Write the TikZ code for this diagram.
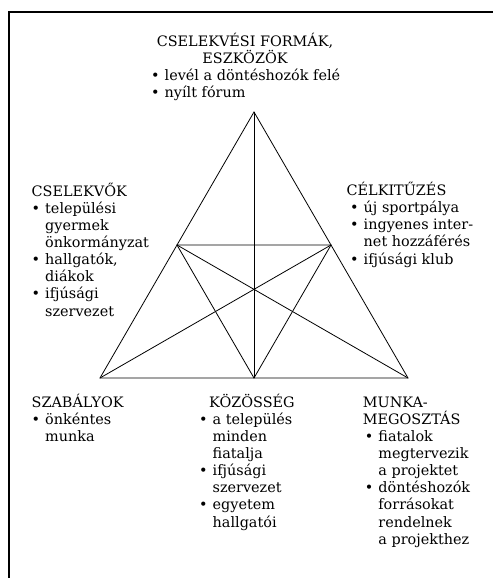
\documentclass[tikz,border=0pt]{standalone}
\usepackage{fontspec}
\setmainfont{DejaVu Serif}
\newcommand{\bl}{\makebox[13.5pt][l]{\textbullet}}
\newcommand{\ct}{\hspace*{13.5pt}}
\begin{document}
\begin{tikzpicture}[x=1pt,y=-1pt,
  txt/.style={inner sep=0pt, align=left, anchor=base west,
    font=\fontsize{14.4}{17.15}\selectfont},
  edge/.style={line width=0.8pt, line join=miter},
  frame/.style={line width=1.6pt}]
\useasboundingbox (0,0) rectangle (493,578);
% frame
\coordinate (f1) at (9,578);
\coordinate (f2) at (9,12);
\coordinate (f3) at (493,12);
\draw[frame] (f1) -- (f2) -- (f3);
% triangle
\coordinate (tA) at (254,112);
\coordinate (tB) at (100,378);
\coordinate (tC) at (408,378);
\coordinate (mAB) at (177,245);
\coordinate (mAC) at (331,245);
\coordinate (mBC) at (254,378);
\draw[edge] (tA) -- (tB) -- (tC) -- cycle;
\draw[edge] (mAB) -- (mAC) -- (mBC) -- cycle;
\draw[edge] (tA) -- (mBC);
\draw[edge] (tB) -- (mAC);
\draw[edge] (tC) -- (mAB);
% texts (anchored at the baseline of the last line)
\node[txt, align=center, anchor=base] (top) at (245,63.85) {CSELEKVÉSI FORMÁK,\\ESZKÖZÖK};
\node[txt] (toplist) at (151,97.85) {\bl levél a döntéshozók felé\\\bl nyílt fórum};
\node[txt] (cselekvok) at (31.5,316.05) {CSELEKVŐK\\\bl települési\\\ct gyermek\\\ct önkormányzat\\\bl hallgatók,\\\ct diákok\\\bl ifjúsági\\\ct szervezet};
\node[txt] (celkituzes) at (346.5,264.1) {CÉLKITŰZÉS\\\hspace*{3.5pt}\bl új sportpálya\\\hspace*{3.5pt}\bl ingyenes inter-\\\hspace*{3.5pt}\ct net hozzáférés\\\hspace*{3.5pt}\bl ifjúsági klub};
\node[txt] (szabalyok) at (31.5,441.3) {SZABÁLYOK\\\bl önkéntes\\\ct munka};
\node[txt] (kozosseg) at (199,527.05) {\hspace*{10pt}KÖZÖSSÉG\\\bl a település\\\ct minden\\\ct fiatalja\\\bl ifjúsági\\\ct szervezet\\\bl egyetem\\\ct hallgatói};
\node[txt] (munka) at (362.7,544.2) {MUNKA-\\MEGOSZTÁS\\\hspace*{2pt}\bl fiatalok\\\hspace*{2pt}\ct megtervezik\\\hspace*{2pt}\ct a projektet\\\hspace*{2pt}\bl döntéshozók\\\hspace*{2pt}\ct forrásokat\\\hspace*{2pt}\ct rendelnek\\\hspace*{2pt}\ct a projekthez};
\end{tikzpicture}
\end{document}
